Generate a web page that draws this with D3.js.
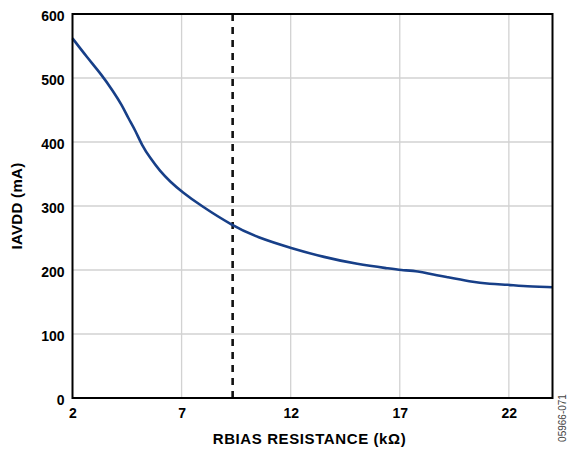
<!DOCTYPE html>
<html><head><meta charset="utf-8">
<script src="https://cdn.jsdelivr.net/npm/d3@7"></script>
<style>body{margin:0;background:#fff}svg{display:block}text{font-family:"Liberation Sans",Arial,sans-serif}</style>
</head><body>
<script>
const rbias = [2.0, 2.65, 3.34, 3.87, 4.26, 4.56, 4.87, 5.18, 5.56, 6.02, 6.48, 7.02, 7.86, 9.34, 10.46, 12.04, 13.52, 15.05, 16.58, 17.0, 17.9, 18.37, 19.14, 20.21, 21.13, 21.99, 22.5, 24.0];
const iavdd = [562, 533, 505, 479, 458, 437, 419, 395, 375, 354, 338, 322, 301, 269, 251, 234, 220, 209, 202, 200, 198, 194, 189, 182, 178, 177, 175, 173];
const xTicks = [2, 7, 12, 17, 22];
const yTicks = [0, 100, 200, 300, 400, 500, 600];
const markerX = 9.34;

const W = 568, H = 455;
const m = {l: 72.5, r: 552.5, t: 14, b: 398};
const svg = d3.select("body").append("svg").attr("width", W).attr("height", H);
const x = d3.scaleLinear().domain([2, 24]).range([m.l, m.r]);
const y = d3.scaleLinear().domain([0, 600]).range([m.b, m.t]);

// grid
svg.append("g").selectAll("line").data(xTicks.slice(1)).join("line")
  .attr("x1", d => x(d)).attr("x2", d => x(d)).attr("y1", m.t).attr("y2", m.b)
  .attr("stroke", "#d2d2d2").attr("stroke-width", 1.3);
svg.append("g").selectAll("line").data(yTicks.slice(1, -1)).join("line")
  .attr("x1", m.l).attr("x2", m.r).attr("y1", d => y(d)).attr("y2", d => y(d))
  .attr("stroke", "#d2d2d2").attr("stroke-width", 1.3);

// dashed marker
svg.append("line").attr("x1", x(markerX)).attr("x2", x(markerX))
  .attr("y1", m.t).attr("y2", m.b).attr("stroke", "#111").attr("stroke-width", 2.6)
  .attr("stroke-dasharray", "7,6");

// curve
svg.append("path").datum(rbias.map((d, i) => [d, iavdd[i]]))
  .attr("d", d3.line().x(d => x(d[0])).y(d => y(d[1])).curve(d3.curveBasis))
  .attr("fill", "none").attr("stroke", "#173f88").attr("stroke-width", 2.6);

// frame
svg.append("rect").attr("x", m.l).attr("y", m.t).attr("width", m.r - m.l).attr("height", m.b - m.t)
  .attr("fill", "none").attr("stroke", "#000").attr("stroke-width", 2);

// axes labels via d3 axes
const xa = svg.append("g").attr("transform", `translate(0,${m.b})`)
  .call(d3.axisBottom(x).tickValues(xTicks).tickSize(0).tickPadding(10));
const ya = svg.append("g").attr("transform", `translate(${m.l},0)`)
  .call(d3.axisLeft(y).tickValues(yTicks).tickSize(0).tickPadding(8));
[xa, ya].forEach(g => {
  g.select(".domain").remove();
  g.selectAll("text").attr("font-family", '"Liberation Sans",Arial,sans-serif')
    .attr("font-size", 14).attr("font-weight", "bold").attr("fill", "#000");
});
ya.selectAll("text").attr("dy", "0.45em");

svg.append("text").attr("x", (m.l + m.r) / 2 - 3).attr("y", 444)
  .attr("text-anchor", "middle").attr("font-size", 15).attr("font-weight", "bold")
  .attr("letter-spacing", 0.6)
  .text("RBIAS RESISTANCE (kΩ)");
svg.append("text").attr("transform", `translate(22,${(m.t + m.b) / 2}) rotate(-90)`)
  .attr("text-anchor", "middle").attr("font-size", 15).attr("font-weight", "bold")
  .attr("letter-spacing", 0.3)
  .text("IAVDD (mA)");
svg.append("text").attr("transform", `translate(566,418) rotate(-90)`)
  .attr("text-anchor", "middle").attr("font-size", 10).attr("fill", "#444")
  .text("05966-071");
</script>
</body></html>
